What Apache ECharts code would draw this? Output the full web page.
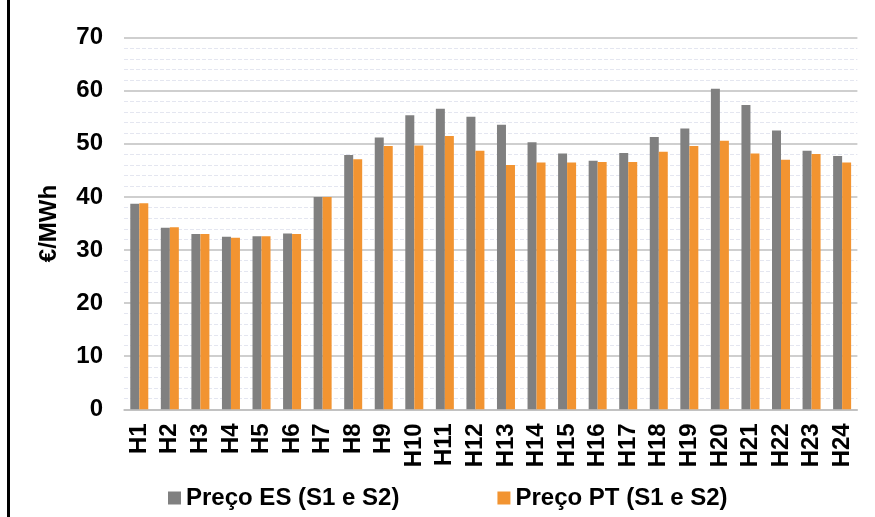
<!DOCTYPE html>
<html>
<head>
<meta charset="utf-8">
<script src="https://cdn.jsdelivr.net/npm/echarts@6/dist/echarts.min.js"></script>
<style>html,body{margin:0;padding:0;background:#fff;}#c{width:875px;height:517px;}</style>
</head>
<body>
<div id="c"></div>
<script>
const categories = ['H1','H2','H3','H4','H5','H6','H7','H8','H9','H10','H11','H12','H13','H14','H15','H16','H17','H18','H19','H20','H21','H22','H23','H24'];
const precoES = [38.7, 34.2, 33.0, 32.5, 32.6, 33.1, 40.0, 47.9, 51.2, 55.4, 56.6, 55.1, 53.6, 50.3, 48.2, 46.8, 48.3, 51.3, 52.9, 60.4, 57.3, 52.5, 48.7, 47.7];
const precoPT = [38.8, 34.3, 33.0, 32.3, 32.6, 33.0, 40.0, 47.1, 49.6, 49.7, 51.5, 48.7, 46.0, 46.5, 46.5, 46.6, 46.6, 48.5, 49.6, 50.6, 48.2, 47.0, 48.1, 46.5];
const seriesNames = ['Preço ES (S1 e S2)', 'Preço PT (S1 e S2)'];
const yAxisName = '€/MWh';

const FONT = '"Liberation Sans", Arial, sans-serif';
const chart = echarts.init(document.getElementById('c'), null, {renderer: 'canvas'});
chart.setOption({
  animation: false,
  backgroundColor: '#ffffff',
  grid: {left: 124, right: 17.6, top: 37.7, bottom: 107.7, containLabel: false},
  legend: {
    data: seriesNames,
    left: 163,
    top: 481,
    itemWidth: 13,
    itemHeight: 13,
    itemGap: 98,
    icon: 'rect',
    textStyle: {fontFamily: FONT, fontWeight: 'bold', fontSize: 24, color: '#000'}
  },
  xAxis: {
    type: 'category',
    data: categories,
    axisTick: {show: false},
    axisLine: {lineStyle: {color: '#bfbfbf', width: 1.5}},
    axisLabel: {rotate: 90, margin: 14, fontFamily: FONT, fontWeight: 'bold', fontSize: 24, color: '#000', interval: 0}
  },
  yAxis: {
    type: 'value',
    min: 0, max: 70, interval: 10,
    name: yAxisName,
    nameLocation: 'middle',
    nameGap: 63,
    nameTextStyle: {fontFamily: FONT, fontWeight: 'bold', fontSize: 24, color: '#000'},
    axisLine: {show: false},
    axisTick: {show: false},
    axisLabel: {margin: 21, fontFamily: FONT, fontWeight: 'bold', fontSize: 24, color: '#000'},
    splitLine: {lineStyle: {color: '#bfbfbf', width: 1.5}},
    minorTick: {show: false, splitNumber: 5},
    minorSplitLine: {show: true, lineStyle: {color: '#e4e6f0', width: 1, type: 'dashed'}}
  },
  series: [
    {name: seriesNames[0], type: 'bar', data: precoES, barWidth: 9, barGap: '0%', itemStyle: {color: '#808080'}},
    {name: seriesNames[1], type: 'bar', data: precoPT, barWidth: 9, barGap: '0%', itemStyle: {color: '#F29431'}}
  ],
  graphic: [
    {type: 'line', shape: {x1: 8.5, y1: 0, x2: 8.5, y2: 517}, style: {stroke: '#000', lineWidth: 3}}
  ]
});
</script>
</body>
</html>
